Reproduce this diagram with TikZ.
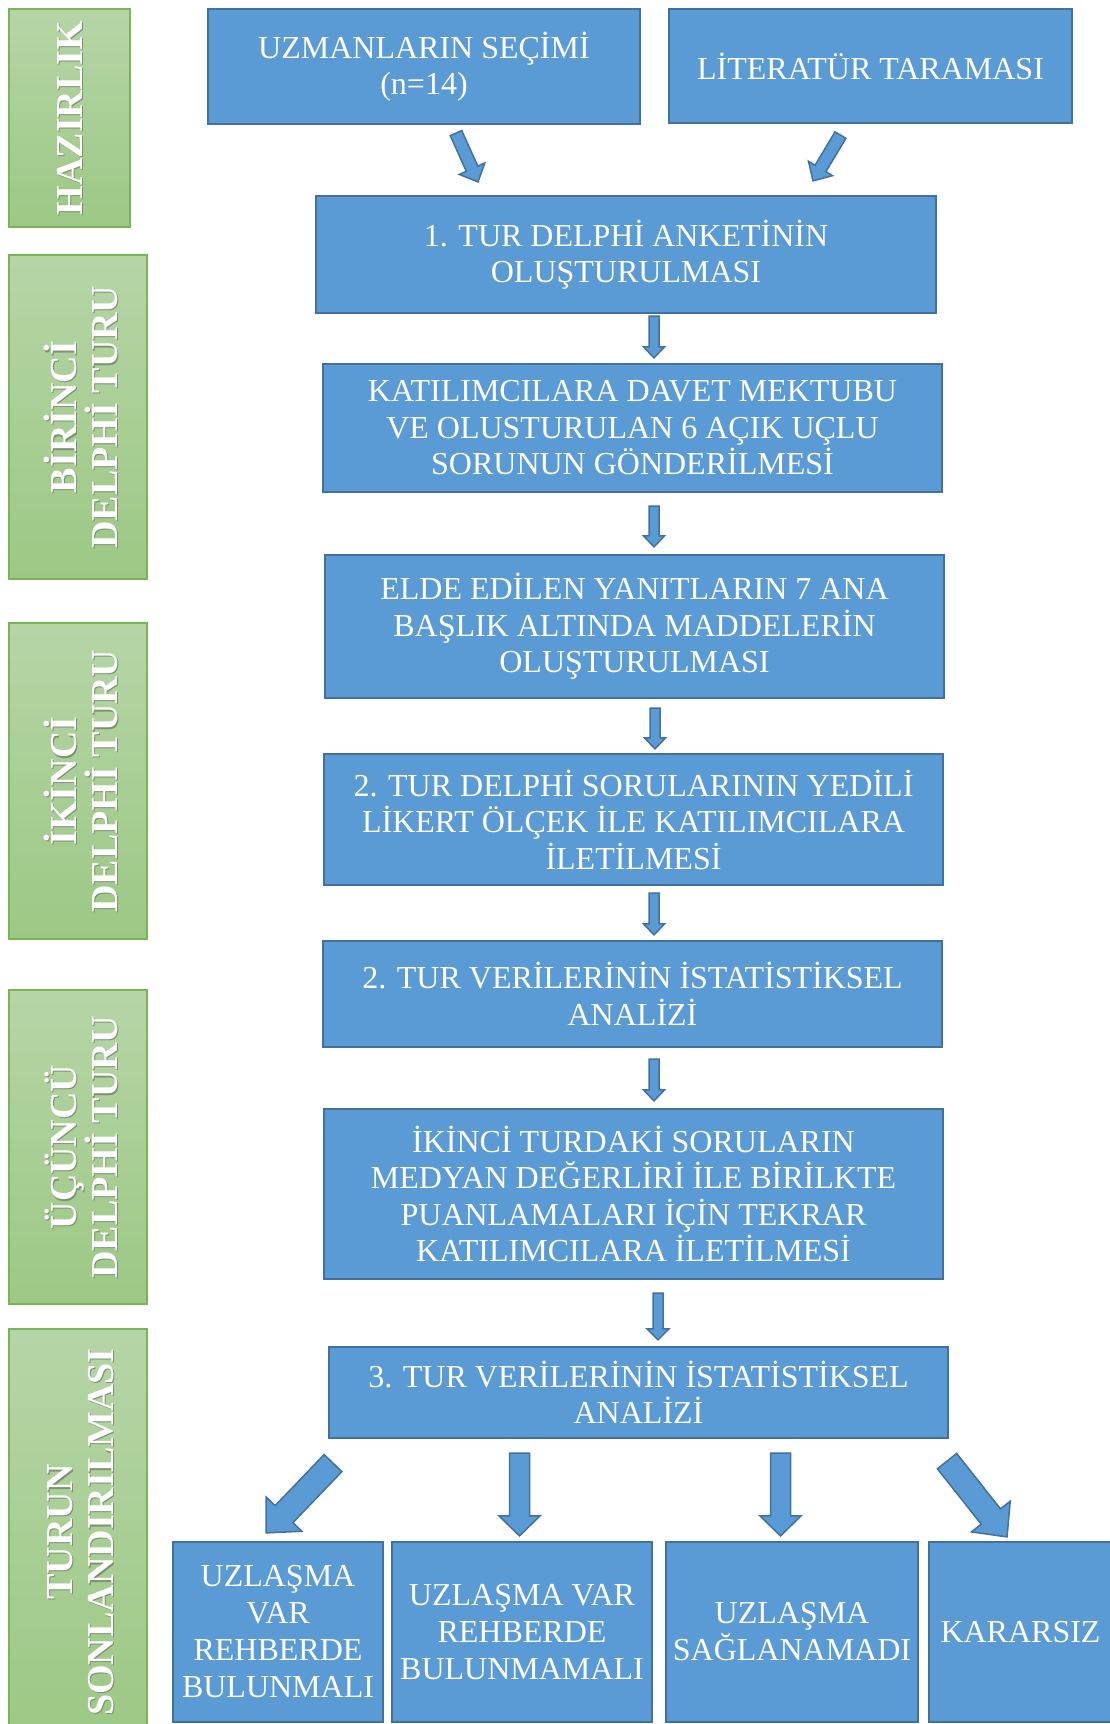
\documentclass[tikz,border=0pt]{standalone}
\usepackage{fontspec}
\setmainfont{Liberation Serif}
\usetikzlibrary{calc}
\definecolor{bfill}{RGB}{91,155,213}
\definecolor{bline}{RGB}{65,113,156}
\definecolor{gtop}{RGB}{182,213,167}
\definecolor{gbot}{RGB}{156,200,132}
\definecolor{gline}{RGB}{122,180,84}
\definecolor{gshadow}{RGB}{125,145,115}
\newcommand{\blockarrow}[5]{%
  \coordinate (hb) at ($(#2)!#5!(#1)$);
  \draw[arrowbox] ($(#1)!#3!90:(#2)$) -- ($(hb)!#3!90:(#2)$) -- ($(hb)!#4!90:(#2)$) -- (#2)
    -- ($(hb)!#4!-90:(#2)$) -- ($(hb)!#3!-90:(#2)$) -- ($(#1)!#3!-90:(#2)$) -- cycle;}
\begin{document}
\begin{tikzpicture}[x=1pt,y=-1pt,
  box/.style={draw=bline, line width=2.2pt, fill=bfill, text=white, align=center, inner sep=0pt,
    font=\fontsize{32}{36.5}\selectfont},
  gbox/.style={draw=gline, line width=1.2pt, top color=gtop, bottom color=gbot, inner sep=0pt},
  glabel/.style={rotate=90, text=white, align=center, inner sep=0pt,
    font=\fontsize{38}{41}\selectfont\bfseries},
  gshade/.style={glabel, text=gshadow},
  arrowbox/.style={draw=bline, line width=1.5pt, fill=bfill, line join=miter}]
\useasboundingbox (0,0) rectangle (1110,1724);

% green phase boxes
\node[gbox, minimum width=121pt, minimum height=218pt] (g1) at (69.5,118) {};
\node[gbox, minimum width=138pt, minimum height=324pt] (g2) at (78,417) {};
\node[gbox, minimum width=138pt, minimum height=316pt] (g3) at (78,781) {};
\node[gbox, minimum width=138pt, minimum height=314pt] (g4) at (78,1147) {};
\node[gbox, minimum width=138pt, minimum height=406pt] (g5) at (78,1532) {};

\node[gshade] (t1s) at ($(g1.center)+(1.2,1.2)$) {HAZIRLIK};
\node[glabel] (t1) at (g1.center) {HAZIRLIK};
\node[gshade] (t2s) at ($(g2.center)+(4.2,1.2)$) {BİRİNCİ\\DELPHİ TURU};
\node[glabel] (t2) at ($(g2.center)+(3,0)$) {BİRİNCİ\\DELPHİ TURU};
\node[gshade] (t3s) at ($(g3.center)+(4.2,1.2)$) {İKİNCİ\\DELPHİ TURU};
\node[glabel] (t3) at ($(g3.center)+(3,0)$) {İKİNCİ\\DELPHİ TURU};
\node[gshade] (t4s) at ($(g4.center)+(4.2,1.2)$) {ÜÇÜNCÜ\\DELPHİ TURU};
\node[glabel] (t4) at ($(g4.center)+(3,0)$) {ÜÇÜNCÜ\\DELPHİ TURU};
\node[gshade] (t5s) at ($(g5.center)+(4.2,1.2)$) {TURUN\\SONLANDIRILMASI};
\node[glabel] (t5) at ($(g5.center)+(3,0)$) {TURUN\\SONLANDIRILMASI};

% blue process boxes
\node[box, minimum width=432pt, minimum height=115pt] (b1) at (424,66.5) {UZMANLARIN SEÇİMİ\\(n=14)};
\node[box, minimum width=403pt, minimum height=114pt] (b2) at (870.5,66) {LİTERATÜR TARAMASI};
\node[box, minimum width=620pt, minimum height=117pt] (b3) at (626,254.5) {1. TUR DELPHİ ANKETİNİN\\OLUŞTURULMASI};
\node[box, minimum width=619pt, minimum height=128pt] (b4) at (632.5,428) {KATILIMCILARA DAVET MEKTUBU\\VE OLUSTURULAN 6 AÇIK UÇLU\\SORUNUN GÖNDERİLMESİ};
\node[box, minimum width=619pt, minimum height=143pt] (b5) at (634.5,626.5) {ELDE EDİLEN YANITLARIN 7 ANA\\BAŞLIK ALTINDA MADDELERİN\\OLUŞTURULMASI};
\node[box, minimum width=619pt, minimum height=131pt] (b6) at (633.5,819.5) {2. TUR DELPHİ SORULARININ YEDİLİ\\LİKERT ÖLÇEK İLE KATILIMCILARA\\İLETİLMESİ};
\node[box, minimum width=619pt, minimum height=106pt] (b7) at (632.5,994) {2. TUR VERİLERİNİN İSTATİSTİKSEL\\ANALİZİ};
\node[box, minimum width=619pt, minimum height=170pt] (b8) at (633.5,1194) {İKİNCİ TURDAKİ SORULARIN\\MEDYAN DEĞERLİRİ İLE BİRİLKTE\\PUANLAMALARI İÇİN TEKRAR\\KATILIMCILARA İLETİLMESİ};
\node[box, minimum width=619pt, minimum height=91pt] (b9) at (638.5,1392.5) {3. TUR VERİLERİNİN İSTATİSTİKSEL\\ANALİZİ};
\node[box, minimum width=210pt, minimum height=180pt, font=\fontsize{32}{37}\selectfont] (b10) at (278,1632) {UZLAŞMA\\VAR\\REHBERDE\\BULUNMALI};
\node[box, minimum width=260pt, minimum height=180pt, font=\fontsize{32}{37}\selectfont] (b11) at (522,1632) {UZLAŞMA VAR\\REHBERDE\\BULUNMAMALI};
\node[box, minimum width=252pt, minimum height=180pt, font=\fontsize{32}{37}\selectfont] (b12) at (792,1632) {UZLAŞMA\\SAĞLANAMADI};
\node[box, minimum width=183pt, minimum height=180pt] (b13) at (1020.5,1632) {KARARSIZ};

% arrow end points
\coordinate (a1s) at ($(b1.south)+(32,8)$);   \coordinate (a1e) at ($(b3.north)+(-148,-13)$);
\coordinate (a2s) at ($(b2.south)+(-30,11)$); \coordinate (a2e) at ($(b3.north)+(187,-14)$);
\coordinate (a3s) at ($(b3.south)+(28,2)$);   \coordinate (a3e) at ($(b4.north)+(21.5,-5)$);
\coordinate (a4s) at ($(b4.south)+(21.5,13)$); \coordinate (a4e) at ($(b5.north)+(19.5,-7)$);
\coordinate (a5s) at ($(b5.south)+(20.5,9)$); \coordinate (a5e) at ($(b6.north)+(21.5,-4)$);
\coordinate (a6s) at ($(b6.south)+(20.5,7)$); \coordinate (a6e) at ($(b7.north)+(21.5,-5)$);
\coordinate (a7s) at ($(b7.south)+(21.5,11)$); \coordinate (a7e) at ($(b8.north)+(20.5,-7)$);
\coordinate (a8s) at ($(b8.south)+(24.5,13)$); \coordinate (a8e) at ($(b9.north)+(19.5,-6)$);
\coordinate (c1s) at ($(b9.south)+(-305.5,24)$); \coordinate (c1e) at ($(b10.north)+(-12,-8)$);
\coordinate (c2s) at ($(b9.south)+(-119,14)$); \coordinate (c2e) at ($(b11.north)+(-2.5,-5)$);
\coordinate (c3s) at ($(b9.south)+(142,14)$); \coordinate (c3e) at ($(b12.north)+(-11.5,-5)$);
\coordinate (c4s) at ($(b9.south)+(308.5,22)$); \coordinate (c4e) at ($(b13.north)+(-13.5,-4)$);

% block arrows
\blockarrow{a1s}{a1e}{6.3pt}{14pt}{14.5pt}
\blockarrow{a2s}{a2e}{6.3pt}{14pt}{14.5pt}
\blockarrow{a3s}{a3e}{5pt}{10.5pt}{11pt}
\blockarrow{a4s}{a4e}{5pt}{10.5pt}{11pt}
\blockarrow{a5s}{a5e}{5pt}{10.5pt}{11pt}
\blockarrow{a6s}{a6e}{5pt}{10.5pt}{11pt}
\blockarrow{a7s}{a7e}{5pt}{10.5pt}{11pt}
\blockarrow{a8s}{a8e}{5pt}{11pt}{11pt}
\blockarrow{c1s}{c1e}{12.3pt}{24.7pt}{26pt}
\blockarrow{c2s}{c2e}{10pt}{20.5pt}{20pt}
\blockarrow{c3s}{c3e}{10pt}{20.5pt}{20pt}
\blockarrow{c4s}{c4e}{12.3pt}{24.7pt}{26pt}
\end{tikzpicture}
\end{document}
